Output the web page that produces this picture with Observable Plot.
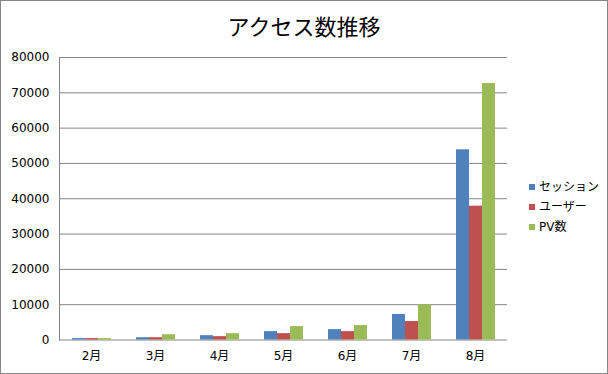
<!DOCTYPE html>
<html>
<head>
<meta charset="utf-8">
<script src="https://cdn.jsdelivr.net/npm/d3@7"></script>
<script src="https://cdn.jsdelivr.net/npm/@observablehq/plot@0.6"></script>
<style>
  html, body { margin: 0; padding: 0; background: #fff; }
  #wrap { position: relative; width: 608px; height: 374px; overflow: hidden; font-family: "DejaVu Sans", "Noto Sans CJK JP", sans-serif; }
  #wrap svg { position: absolute; left: 0; top: 0; }
  #title { position: absolute; left: 0; top: 14px; width: 608px; text-align: center; font-family: "Noto Sans CJK JP", sans-serif; font-size: 22px; line-height: 22px; color: #000; }
  #legend { position: absolute; left: 529px; top: 177px; font-size: 12px; color: #000; }
  .item { position: relative; height: 20px; line-height: 20px; padding-left: 10px; white-space: nowrap; }
  .sw { position: absolute; left: 0; top: 7px; width: 6px; height: 6px; }
  #border { position: absolute; left: 0; top: 0; width: 608px; height: 374px; box-sizing: border-box; border: 1px solid #868686; pointer-events: none; }
</style>
</head>
<body>
<div id="wrap">
  <div id="title"></div>
  <div id="legend"></div>
  <div id="border"></div>
</div>
<script>
const titleText = "アクセス数推移";
const months = ["2月", "3月", "4月", "5月", "6月", "7月", "8月"];
const seriesNames = ["セッション", "ユーザー", "PV数"];
const sessions = [400, 650, 1230, 2370, 2940, 7230, 53860];
const users = [400, 650, 950, 1800, 2370, 5230, 37900];
const pageviews = [400, 1500, 1800, 3800, 4090, 10000, 72630];
const colors = ["#4F81BD", "#C0504D", "#9BBB59"];
const yTicks = [0, 10000, 20000, 30000, 40000, 50000, 60000, 70000, 80000];

const seriesValues = [sessions, users, pageviews];
const data = [];
months.forEach((m, i) => {
  seriesNames.forEach((s, j) => {
    data.push({month: m, series: s, value: seriesValues[j][i]});
  });
});

const gridColor = "#868686";

const chart = Plot.plot({
  width: 608,
  height: 374,
  marginLeft: 57,
  marginRight: 99,
  marginTop: 57,
  marginBottom: 34.5,
  style: {fontFamily: "'DejaVu Sans', 'Noto Sans CJK JP', sans-serif", fontSize: "12px", background: "transparent"},
  fx: {domain: months, padding: 0, label: null},
  x: {domain: seriesNames, paddingInner: 0, paddingOuter: 0.8, axis: null},
  y: {domain: [0, 80000], label: null},
  color: {domain: seriesNames, range: colors},
  marks: [
    Plot.gridY(yTicks, {stroke: gridColor, strokeOpacity: 1}),
    Plot.frame({anchor: "left", stroke: gridColor, facetAnchor: "left"}),
    Plot.barY(data, {fx: "month", x: "series", y: "value", fill: "series"}),
    Plot.axisY(yTicks, {tickSize: 0, tickPadding: 10, tickFormat: d => String(d), label: null, fontSize: 12}),
    Plot.axisFx({anchor: "bottom", tickSize: 0, tickPadding: 11, label: null, fontSize: 12})
  ]
});

const wrap = document.getElementById("wrap");
wrap.insertBefore(chart, wrap.firstChild);
document.getElementById("title").textContent = titleText;

const legend = document.getElementById("legend");
seriesNames.forEach((s, j) => {
  const item = document.createElement("div");
  item.className = "item";
  const sw = document.createElement("span");
  sw.className = "sw";
  sw.style.background = colors[j];
  item.appendChild(sw);
  item.appendChild(document.createTextNode(s));
  legend.appendChild(item);
});
</script>
</body>
</html>
